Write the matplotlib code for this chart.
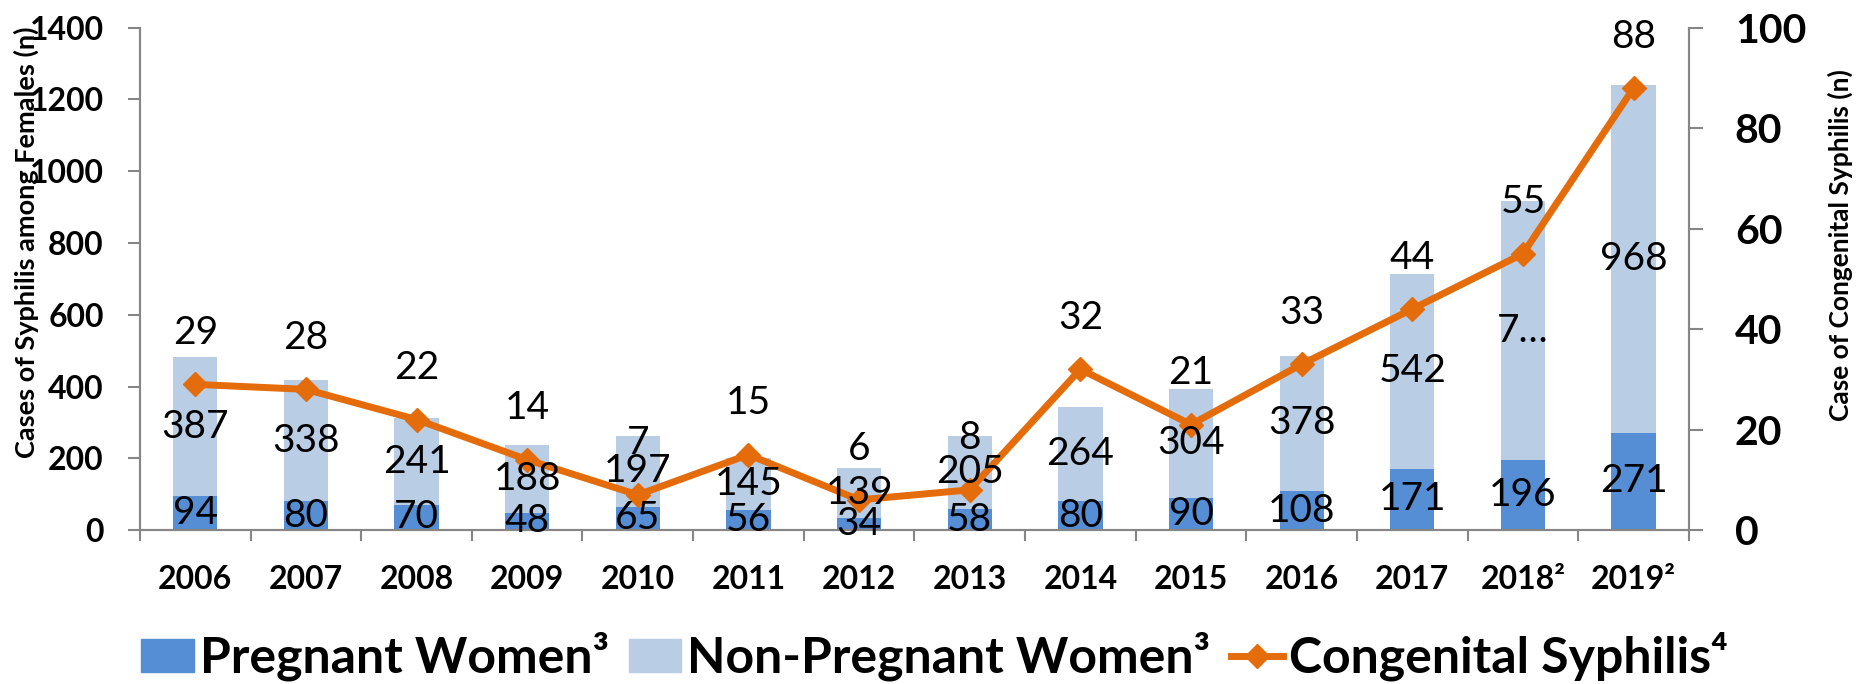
import matplotlib
matplotlib.use("Agg")
import matplotlib.pyplot as plt
from matplotlib.lines import Line2D
from matplotlib.patches import Patch
import numpy as np

plt.rcParams['font.family'] = ['Lato', 'DejaVu Sans']

years = ["2006", "2007", "2008", "2009", "2010", "2011", "2012", "2013",
         "2014", "2015", "2016", "2017", "2018²", "2019²"]
pregnant = [94, 80, 70, 48, 65, 56, 34, 58, 80, 90, 108, 171, 196, 271]
non_pregnant = [387, 338, 241, 188, 197, 145, 139, 205, 264, 304, 378, 542, 720, 968]
non_pregnant_labels = ["387", "338", "241", "188", "197", "145", "139", "205",
                       "264", "304", "378", "542", "7…", "968"]
congenital = [29, 28, 22, 14, 7, 15, 6, 8, 32, 21, 33, 44, 55, 88]

c_preg = "#558ED5"
c_nonp = "#B9CDE5"
c_line = "#E46C0A"
c_axis = "#868686"

fig = plt.figure(figsize=(18.58, 6.84), dpi=100)
ax = fig.add_axes([0.0753, 0.2251, 0.909 - 0.0753, 0.9595 - 0.2251])
ax2 = ax.twinx()

x = np.arange(len(years))
w = 0.40
ax.bar(x, pregnant, width=w, color=c_preg, zorder=2)
ax.bar(x, non_pregnant, width=w, bottom=pregnant, color=c_nonp, zorder=2)

ax.set_ylim(0, 1400)
ax.set_yticks(np.arange(0, 1401, 200))
ax.set_xlim(-0.5, len(years) - 0.5)
ax.set_xticks(x)
ax.set_xticklabels(years, fontsize=23, fontweight='bold')
ax.set_xticks(np.arange(-0.5, len(years), 1.0), minor=True)
ax.tick_params(axis='x', which='major', length=0, pad=25)
ax.tick_params(axis='x', which='minor', length=8, width=1.5, color=c_axis, direction='out')
ax.tick_params(axis='y', which='major', length=9, width=1.5, color=c_axis, direction='out',
               labelsize=23, pad=17)
for lab in ax.get_yticklabels():
    lab.set_fontweight('bold')

ax2.set_ylim(0, 100)
ax2.set_yticks(np.arange(0, 101, 20))
ax2.tick_params(axis='y', which='major', length=10, width=1.5, color=c_axis, direction='out',
                labelsize=29.5, pad=23)
for lab in ax2.get_yticklabels():
    lab.set_fontweight('bold')

for a in (ax, ax2):
    a.spines['top'].set_visible(False)
    for s in ('left', 'right', 'bottom'):
        a.spines[s].set_color(c_axis)
        a.spines[s].set_linewidth(1.5)

ax2.plot(x, congenital, color=c_line, lw=5, marker='D', ms=12, zorder=3)

ax.set_zorder(ax2.get_zorder() - 1)
ax.patch.set_visible(False)

# data labels
for i in range(len(years)):
    ax2.text(x[i], pregnant[i] / 2 / 14, str(pregnant[i]), ha='center', va='center',
             fontsize=28, color='black', zorder=5)
    mid = (pregnant[i] + non_pregnant[i] / 2) / 14
    ax2.text(x[i], mid, non_pregnant_labels[i], ha='center', va='center',
             fontsize=28, color='black', zorder=5)
    ax2.annotate(str(congenital[i]), (x[i], congenital[i]), xytext=(0, 37),
                 textcoords='offset points', ha='center', va='center',
                 fontsize=28, color='black', zorder=5)

ax.set_ylabel("Cases of Syphilis among Females (n)", fontsize=19.5, fontweight='bold')
ax.yaxis.set_label_coords(-0.065, 0.572)
ax2.set_ylabel("Case of Congenital Syphilis (n)", fontsize=19, fontweight='bold')
ax2.yaxis.set_label_coords(1.0895, 0.568)

handles = [Patch(color=c_preg), Patch(color=c_nonp),
           Line2D([0], [0], color=c_line, lw=5, marker='D', ms=12)]
labels = ["Pregnant Women³", "Non-Pregnant Women³", "Congenital Syphilis⁴"]
fig.legend(handles, labels, loc='center', bbox_to_anchor=(0.503, 0.04), ncol=3,
           frameon=False, prop={'size': 36, 'weight': 'bold'},
           handlelength=1.05, handleheight=0.65, handletextpad=0.12, columnspacing=0.4)

fig.savefig("out.png", dpi=100)
